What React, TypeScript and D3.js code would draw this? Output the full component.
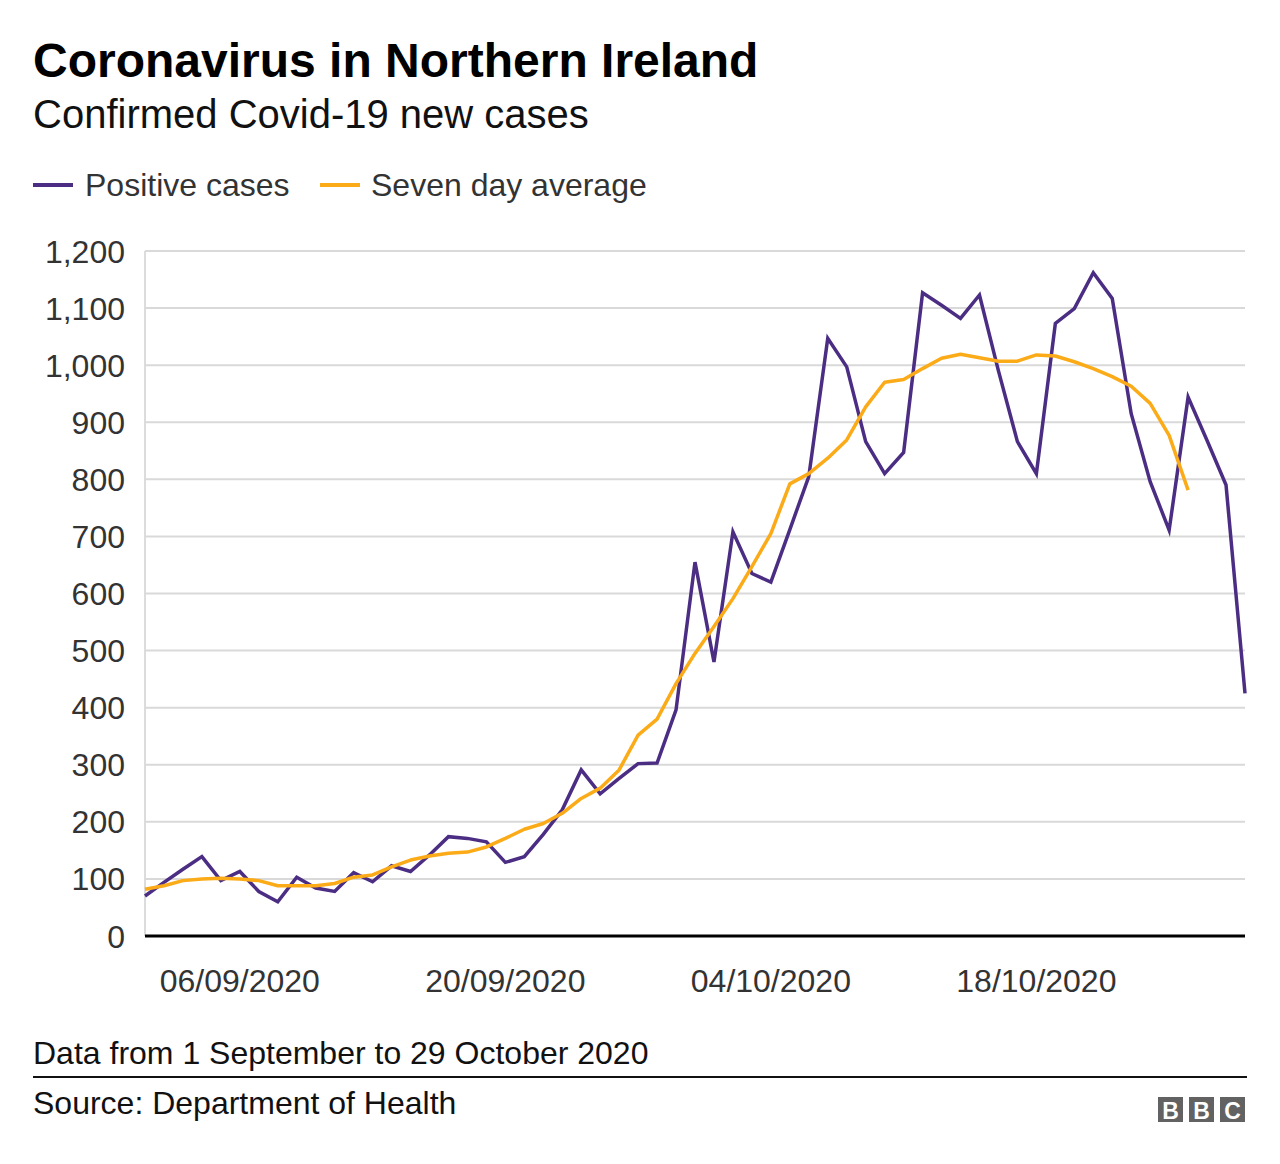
import React from "react";
import * as d3 from "d3";

const startDate = new Date(2020, 8, 1);
const endDate = new Date(2020, 9, 29);

const positiveCases = [
  70, 94, 117, 139, 97, 113, 78, 60, 103, 84, 78, 111, 95, 123, 113, 142, 174, 171, 165, 129,
  139, 178, 221, 291, 249, 276, 302, 303, 396, 655, 480, 708, 635, 620, 712, 805, 1047, 997,
  866, 810, 847, 1127, 1105, 1082, 1123, 990, 866, 810, 1073, 1099, 1162, 1117, 915, 796, 711,
  944, 868, 790, 425,
];

const sevenDayAverage = [
  82, 88, 97, 100, 101, 100, 97, 88, 88, 88, 92, 103, 107, 121, 133, 140, 145, 147, 156, 171,
  187, 197, 215, 241, 259, 291, 352, 380, 442, 495, 542, 591, 647, 705, 792, 810, 837, 869,
  927, 970, 975, 994, 1012, 1019, 1013, 1007, 1007, 1018, 1016, 1006, 994, 980, 963, 933, 877,
  781,
];

const yTicks = [0, 100, 200, 300, 400, 500, 600, 700, 800, 900, 1000, 1100, 1200];
const xTickDates = [
  new Date(2020, 8, 6),
  new Date(2020, 8, 20),
  new Date(2020, 9, 4),
  new Date(2020, 9, 18),
];

const title = "Coronavirus in Northern Ireland";
const subtitle = "Confirmed Covid-19 new cases";
const legendItems = ["Positive cases", "Seven day average"];
const note = "Data from 1 September to 29 October 2020";
const source = "Source: Department of Health";
const logoLetters = ["B", "B", "C"];

const PURPLE = "#4b2e83";
const YELLOW = "#fbab18";
const FONT = "'Liberation Sans', Arial, Helvetica, sans-serif";

function dayDate(i: number) {
  return d3.timeDay.offset(startDate, i);
}

export default function App() {
  const W = 1280;
  const H = 1164;
  const left = 145;
  const right = 1245;
  const top = 251;
  const bottom = 936;

  const x = d3.scaleTime().domain([startDate, endDate]).range([left, right]);
  const y = d3.scaleLinear().domain([0, 1200]).range([bottom, top]);

  const line = d3
    .line<number>()
    .x((_, i) => x(dayDate(i)))
    .y((d) => y(d));

  const fmt = d3.timeFormat("%d/%m/%Y");
  const numFmt = d3.format(",");

  return (
    <div style={{ position: "absolute", left: 0, top: 0 }}>
      <svg width={W} height={H} style={{ display: "block", background: "#fff" }} fontFamily={FONT}>
        <text x={33} y={77} fontSize={48} fontWeight="bold" fill="#000">
          {title}
        </text>
        <text x={33} y={128} fontSize={40} fill="#111">
          {subtitle}
        </text>

        {/* legend */}
        <line x1={33} x2={73} y1={185} y2={185} stroke={PURPLE} strokeWidth={4} />
        <text x={85} y={196} fontSize={32} fill="#333">
          {legendItems[0]}
        </text>
        <line x1={320} x2={360} y1={185} y2={185} stroke={YELLOW} strokeWidth={4} />
        <text x={371} y={196} fontSize={32} fill="#333">
          {legendItems[1]}
        </text>

        {/* grid */}
        <line x1={left} x2={left} y1={top} y2={bottom} stroke="#dcdcdc" strokeWidth={2} />
        {yTicks.map((t) => (
          <g key={t}>
            {t !== 0 && (
              <line x1={left} x2={right} y1={y(t)} y2={y(t)} stroke="#d9d9d9" strokeWidth={2} />
            )}
            <text x={125} y={y(t)} dy="0.36em" textAnchor="end" fontSize={32} fill="#333">
              {numFmt(t)}
            </text>
          </g>
        ))}

        {/* x labels */}
        {xTickDates.map((d) => (
          <text key={+d} x={x(d)} y={992} textAnchor="middle" fontSize={32} fill="#333">
            {fmt(d)}
          </text>
        ))}

        {/* lines */}
        <path
          d={line(positiveCases) || ""}
          fill="none"
          stroke={PURPLE}
          strokeWidth={3.5}
          strokeLinejoin="miter"
        />
        <path
          d={line(sevenDayAverage) || ""}
          fill="none"
          stroke={YELLOW}
          strokeWidth={3.5}
          strokeLinejoin="round"
        />

        {/* baseline */}
        <line x1={left} x2={right} y1={bottom} y2={bottom} stroke="#000" strokeWidth={3} />

        {/* footer */}
        <text x={33} y={1064} fontSize={32} fill="#111">
          {note}
        </text>
        <line x1={33} x2={1247} y1={1077} y2={1077} stroke="#111" strokeWidth={2} />
        <text x={33} y={1114} fontSize={32} fill="#111">
          {source}
        </text>

        {/* BBC logo */}
        {logoLetters.map((ch, i) => (
          <g key={i} transform={`translate(${1158 + i * 31},1097)`}>
            <rect width={25} height={25} fill="#626262" />
            <text x={12.5} y={21.5} textAnchor="middle" fontSize={23} fontWeight="bold" fill="#fff">
              {ch}
            </text>
          </g>
        ))}
      </svg>
    </div>
  );
}
